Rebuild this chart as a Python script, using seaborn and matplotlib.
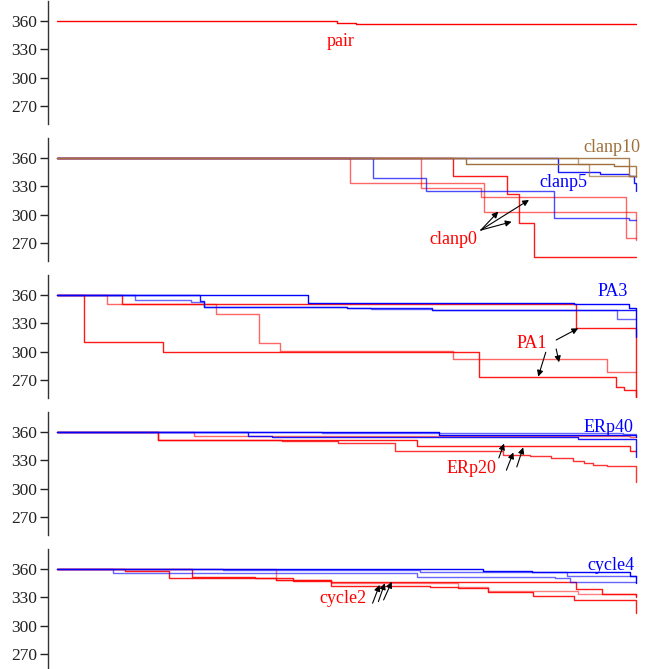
import matplotlib
matplotlib.use("Agg")
import matplotlib.pyplot as plt
import seaborn as sns
import pandas as pd

# x = progress of the run (percent), y = remaining value; step curves (steps-post)
RED = "#ff0000"
BLUE = "#0000ff"
BROWN = "#a0703c"

# panel 1: pair
pair_x = [0, 48.4, 51.6, 100]
pair_y = [360, 357.6, 356.6, 356.6]

# panel 2: clanp0 / clanp5 / clanp10
clanp0_a_x = [0, 50.6, 73.8, 100]
clanp0_a_y = [360, 333.7, 302.8, 273]
clanp0_b_x = [0, 62.8, 73.3, 98.2, 100]
clanp0_b_y = [360, 327.7, 318.8, 275.5, 275.5]
clanp0_c_x = [0, 68.3, 77.7, 79.8, 82.4, 100]
clanp0_c_y = [360, 341.2, 322.3, 291.1, 254.9, 254.9]
clanp5_a_x = [0, 54.5, 63.7, 85.8, 98.8, 100]
clanp5_a_y = [360, 338.3, 324.8, 296.8, 293.9, 293.9]
clanp5_b_x = [0, 86.5, 93.8, 98.7, 99.6, 100]
clanp5_b_y = [360, 344.7, 342.6, 341.2, 333.0, 325.0]
clanp10_a_x = [0, 70.6, 96.2, 98.8, 100]
clanp10_a_y = [360, 353.6, 351.5, 341.0, 341.0]
clanp10_b_x = [0, 89.9, 91.9, 100]
clanp10_b_y = [360, 353.6, 340.8, 340.8]
clanp10_c_x = [0, 98.7, 100]
clanp10_c_y = [360, 352.0, 340.0]

# panel 3: PA1 / PA3
pa1_a_x = [0, 4.6, 18.3, 72.9, 96.5, 97.9, 100]
pa1_a_y = [360, 310.5, 299.9, 272.8, 262.9, 259.4, 252.0]
pa1_b_x = [0, 8.6, 27.5, 34.9, 38.5, 68.4, 95.0, 100]
pa1_b_y = [360, 350.1, 340.2, 308.8, 300.6, 292.2, 278.1, 278.1]
pa1_c_x = [0, 11.2, 89.7, 100]
pa1_c_y = [360, 350.1, 324.7, 251.0]
pa3_a_x = [0, 43.4, 89.2, 98.7, 100]
pa3_a_y = [360, 351.2, 350.6, 345.9, 315.9]
pa3_b_x = [0, 13.5, 23.1, 25.4, 50.0, 54.3, 64.7, 96.7, 100]
pa3_b_y = [360, 355.1, 352.9, 347.6, 345.9, 345.2, 344.1, 334.6, 334.6]
pa3_c_x = [0, 24.7, 25.4, 50.0, 64.7, 100]
pa3_c_y = [360, 353.5, 347.6, 346.5, 344.1, 344.1]

# panel 4: ERp20 / ERp40
erp20_a_x = [0, 17.5, 62.1, 99.0, 100]
erp20_a_y = [360, 351.9, 344.9, 339.6, 339.6]
erp20_b_x = [0, 23.6, 99.0, 100]
erp20_b_y = [360, 355.8, 354.5, 354.5]
erp20_c_x = [0, 17.5, 38.8, 48.6, 58.4, 77.1, 81.6, 85.3, 89.1, 91.0, 92.6, 94.9, 100]
erp20_c_y = [360, 351.9, 350.9, 348.0, 339.6, 336.0, 334.6, 332.0, 329.0, 327.0, 324.5, 323.5, 307.0]
erp40_a_x = [0, 65.9, 100]
erp40_a_y = [360, 357.2, 355.0]
erp40_b_x = [0, 33.0, 37.1, 90.0, 100]
erp40_b_y = [360, 355.8, 354.4, 353.0, 333.5]
erp40_c_x = [0, 45.8, 97.7, 100]
erp40_c_y = [360, 358.5, 357.5, 357.5]

# panel 5: cycle2 / cycle4
cycle2_a_x = [0, 11.7, 19.4, 37.9, 47.4, 64.4, 69.3, 74.5, 82.2, 89.2, 100]
cycle2_a_y = [360, 358.2, 350.1, 348.3, 342.0, 340.6, 339.5, 335.3, 331.8, 327.2, 313.0]
cycle2_b_x = [0, 23.3, 34.2, 40.7, 47.4, 89.7, 94.1, 100]
cycle2_b_y = [360, 351.2, 350.1, 347.3, 346.6, 338.8, 333.2, 330.0]
cycle2_c_x = [0, 37.9, 47.4, 69.3, 74.5, 90.0, 96.0, 100]
cycle2_c_y = [360, 348.0, 345.2, 341.0, 336.5, 334.0, 333.0, 331.0]
cycle4_a_x = [0, 73.6, 82.0, 91.5, 99.0, 100]
cycle4_a_y = [360, 358.2, 357.2, 356.5, 352.9, 345.5]
cycle4_b_x = [0, 9.6, 62.1, 86.0, 88.6, 100]
cycle4_b_y = [360, 355.4, 351.2, 350.1, 346.6, 346.6]
cycle4_c_x = [0, 28.7, 62.7, 88.0, 100]
cycle4_c_y = [360, 359.3, 356.5, 352.9, 352.0]

y_ticks = [270, 300, 330, 360]


def draw_steps(ax, xs, ys, color, alpha):
    df = pd.DataFrame({"t": xs, "v": ys})
    sns.lineplot(data=df, x="t", y="v", ax=ax, color=color, alpha=alpha, lw=1.0,
                 drawstyle="steps-post", estimator=None, sort=False, legend=False)


def arrow(ax, tail, head):
    ax.annotate("", xy=head, xytext=tail,
                arrowprops=dict(arrowstyle="-|>", color="k", lw=0.8,
                                mutation_scale=9, shrinkA=0, shrinkB=0))


sns.set_style("ticks")
plt.rcParams["font.family"] = ["Liberation Serif", "DejaVu Serif"]

W, H = 663, 669
fig = plt.figure(figsize=(W / 100, H / 100), dpi=100)

axes = []
for i in range(5):
    top = 1.2 + 137.0 * i
    height = 122.7
    ax = fig.add_axes([48 / W, 1 - (top + height) / H, 602 / W, height / H])
    axes.append(ax)

ax1, ax2, ax3, ax4, ax5 = axes

# panel 1
draw_steps(ax1, pair_x, pair_y, RED, 1.0)
ax1.text(49, 338, "pair", color=RED, fontsize=13, ha="center", va="center")

# panel 2 (red underneath, brown on top)
draw_steps(ax2, clanp0_a_x, clanp0_a_y, RED, 0.6)
draw_steps(ax2, clanp0_b_x, clanp0_b_y, RED, 0.6)
draw_steps(ax2, clanp0_c_x, clanp0_c_y, RED, 0.9)
draw_steps(ax2, clanp5_a_x, clanp5_a_y, BLUE, 0.7)
draw_steps(ax2, clanp5_b_x, clanp5_b_y, BLUE, 0.9)
draw_steps(ax2, clanp10_b_x, clanp10_b_y, BROWN, 0.7)
draw_steps(ax2, clanp10_c_x, clanp10_c_y, BROWN, 0.9)
draw_steps(ax2, clanp10_a_x, clanp10_a_y, BROWN, 1.0)
ax2.text(100.7, 371, "clanp10", color=BROWN, fontsize=13, ha="right", va="center")
ax2.text(87.4, 333.7, "clanp5", color=BLUE, fontsize=13, ha="center", va="center")
ax2.text(68.5, 274, "clanp0", color=RED, fontsize=13, ha="center", va="center")
arrow(ax2, (73.2, 283.6), (76.2, 303.1))
arrow(ax2, (73.2, 283.6), (81.5, 315.5))
arrow(ax2, (73.2, 283.6), (78.5, 292.4))

# panel 3
draw_steps(ax3, pa1_a_x, pa1_a_y, RED, 0.9)
draw_steps(ax3, pa1_b_x, pa1_b_y, RED, 0.6)
draw_steps(ax3, pa1_c_x, pa1_c_y, RED, 0.9)
draw_steps(ax3, pa3_b_x, pa3_b_y, BLUE, 0.6)
draw_steps(ax3, pa3_c_x, pa3_c_y, BLUE, 0.9)
draw_steps(ax3, pa3_a_x, pa3_a_y, BLUE, 1.0)
ax3.text(98.6, 364.2, "PA3", color=BLUE, fontsize=13, ha="right", va="center")
ax3.text(82.0, 308.8, "PA1", color=RED, fontsize=13, ha="center", va="center")
arrow(ax3, (86.2, 312.3), (90.0, 324.7))
arrow(ax3, (84.4, 299.3), (83.1, 273.5))
arrow(ax3, (86.2, 302.8), (86.7, 288.7))

# panel 4
draw_steps(ax4, erp20_a_x, erp20_a_y, RED, 0.9)
draw_steps(ax4, erp20_b_x, erp20_b_y, RED, 0.6)
draw_steps(ax4, erp20_c_x, erp20_c_y, RED, 0.8)
draw_steps(ax4, erp40_c_x, erp40_c_y, BLUE, 0.6)
draw_steps(ax4, erp40_b_x, erp40_b_y, BLUE, 0.9)
draw_steps(ax4, erp40_a_x, erp40_a_y, BLUE, 1.0)
ax4.text(99.5, 365.3, "ERp40", color=BLUE, fontsize=13, ha="right", va="center")
ax4.text(71.5, 321.5, "ERp20", color=RED, fontsize=13, ha="center", va="center")
arrow(ax4, (76.3, 332.5), (77.2, 347.7))
arrow(ax4, (77.6, 319.5), (78.8, 338.3))
arrow(ax4, (79.4, 323.0), (80.5, 343.6))

# panel 5 (red underneath, blue on top)
draw_steps(ax5, cycle2_c_x, cycle2_c_y, RED, 0.5)
draw_steps(ax5, cycle2_a_x, cycle2_a_y, RED, 0.9)
draw_steps(ax5, cycle2_b_x, cycle2_b_y, RED, 0.9)
draw_steps(ax5, cycle4_b_x, cycle4_b_y, BLUE, 0.6)
draw_steps(ax5, cycle4_c_x, cycle4_c_y, BLUE, 0.6)
draw_steps(ax5, cycle4_a_x, cycle4_a_y, BLUE, 1.0)
ax5.text(99.8, 364.2, "cycle4", color=BLUE, fontsize=13, ha="right", va="center")
ax5.text(49.4, 328.2, "cycle2", color=RED, fontsize=13, ha="center", va="center")
arrow(ax5, (54.5, 323.7), (55.7, 343.1))
arrow(ax5, (55.5, 325.4), (56.6, 344.9))
arrow(ax5, (56.4, 327.2), (57.8, 346.5))

# axis styling after seaborn has drawn (it sets its own labels)
for ax in axes:
    ax.set_xlim(-1.55, 102.4)
    ax.set_ylim(250.9, 381.0)
    ax.set_yticks(y_ticks)
    ax.tick_params(axis="y", direction="out", length=6, width=1.0, pad=2,
                   labelsize=12.5, colors="#222222")
    ax.set_xticks([])
    for s in ["top", "right", "bottom"]:
        ax.spines[s].set_visible(False)
    ax.spines["left"].set_linewidth(1.0)
    ax.spines["left"].set_color("#333333")
    ax.set_xlabel("")
    ax.set_ylabel("")
    ax.set_facecolor("none")

fig.savefig("out.png", dpi=100)
